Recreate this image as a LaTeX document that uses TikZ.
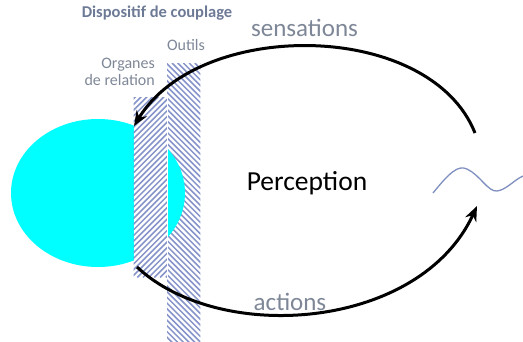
\documentclass[tikz,border=0pt]{standalone}
\usepackage{fontspec}
\setmainfont{Carlito}
\usetikzlibrary{arrows.meta,shapes.geometric}
\definecolor{hatch}{HTML}{8794CA}
\definecolor{labgrey}{HTML}{7E8797}
\definecolor{titlegrey}{HTML}{6D7A96}
\definecolor{wave}{HTML}{7F8FBF}
\definecolor{bodycyan}{RGB}{0,255,255}
\begin{document}
\begin{tikzpicture}[x=1pt,y=-1pt,
  stripbox/.style={rectangle,draw=none,inner sep=0pt,anchor=north west,minimum width=33pt},
  hatchline/.style={hatch,line width=1.5pt},
  arc/.style={line width=3pt,black,-{Stealth[length=15pt,width=12pt]}},
  lab/.style={text=labgrey,font=\fontsize{25}{25}\selectfont,inner sep=0pt},
  small/.style={text=labgrey,font=\fontsize{16}{17}\selectfont,inner sep=0pt}]
\useasboundingbox (0,0) rectangle (523,341);
% right strip (Outils)
\node[stripbox,minimum height=278pt] (outils) at (167,63) {};
\begin{scope}
  \clip (outils.north west) rectangle (outils.south east);
  \foreach \i in {0,...,55} {
    \draw[hatchline] ([xshift={-280pt+\i*5.7pt}]outils.north west) -- ++(320,320);
  }
\end{scope}
% cyan body
\node[ellipse,fill=bodycyan,draw=none,minimum width=174pt,minimum height=148pt,inner sep=0pt] (body) at (98,193) {};
% left strip (Organes de relation)
\node[stripbox,minimum height=180pt,fill=white,minimum width=34.5pt] (organes) at (133.5,97) {};
\begin{scope}
  \clip (organes.north west) rectangle ([xshift=-1.5pt]organes.south east);
  \foreach \i in {0,...,40} {
    \draw[hatchline] ([xshift={-190pt+\i*5.7pt}]organes.south west) -- ++(220,-220);
  }
\end{scope}
% texts
\node[text=titlegrey,font=\fontsize{16.5}{18}\selectfont\bfseries,inner sep=0pt] (titre) at (157,13) {Dispositif de couplage};
\node[small] (toutils) at (186,45) {Outils};
\node[small,align=right,anchor=east] (torganes) at (155,71.5) {Organes\\de relation};
\node[lab] (sens) at (304.5,28) {sensations};
\node[lab] (act) at (290,302) {actions};
\node[inner sep=0pt,font=\fontsize{27.5}{28}\selectfont] (perc) at (307,183) {Perception};
% arcs
\coordinate (sstart) at (475,133);
\coordinate (send) at (134,126);
\coordinate (astart) at (137,267);
\coordinate (aend) at (477,206);
\draw[arc] (sstart) .. controls (430,20) and (200,18) .. (send);
\draw[arc] (astart) .. controls (220,345) and (420,330) .. (aend);
% wave
\coordinate (w0) at (433,193);
\coordinate (w3) at (523,176);
\draw[wave,line width=1.3pt] (w0) .. controls (450,172) and (458,165) .. (467,169) .. controls (480,175) and (488,192) .. (497,191) .. controls (506,190) and (514,180) .. (w3);
\end{tikzpicture}
\end{document}
